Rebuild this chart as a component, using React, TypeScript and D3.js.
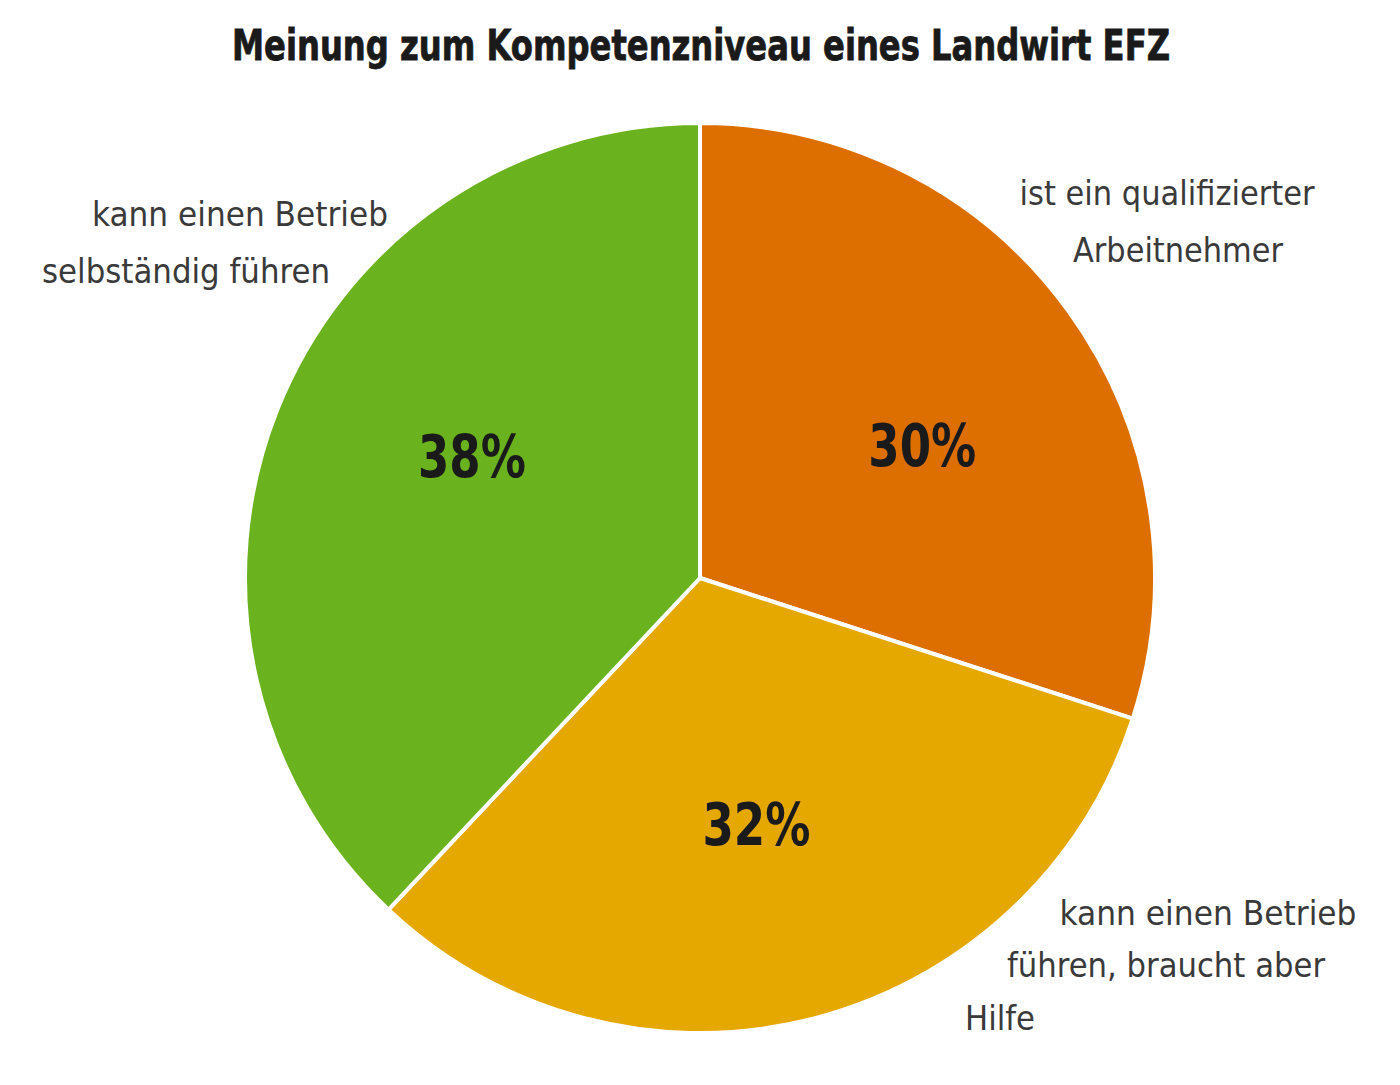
import React from "react";
import * as d3 from "d3";

const categories = [
  "ist ein qualifizierter Arbeitnehmer",
  "kann einen Betrieb führen, braucht aber Hilfe",
  "kann einen Betrieb selbständig führen",
];
const values = [30, 32, 38];
const colors = ["#DD6F00", "#E5A800", "#6AB21E"];
const labelLines = [
  ["ist ein qualifizierter", "Arbeitnehmer"],
  ["kann einen Betrieb", "führen, braucht aber", "Hilfe"],
  ["kann einen Betrieb", "selbständig führen"],
];
const title = "Meinung zum Kompetenzniveau eines Landwirt EFZ";

// layout (styles, not data)
const W = 1400;
const H = 1085;
const cx = 700;
const cy = 578;
const R = 455;
const pctOffsets = [
  [16, 18],
  [-7, 0],
  [9, -27],
];
const outsideLayout = [
  [
    { x: 1167, y: 205, w: 295 },
    { x: 1178, y: 262, w: 210 },
  ],
  [
    { x: 1208, y: 925, w: 297 },
    { x: 1166, y: 977, w: 318 },
    { x: 1000, y: 1030, w: 70 },
  ],
  [
    { x: 240, y: 226, w: 296 },
    { x: 186, y: 283, w: 288 },
  ],
];

const FONT = "'Liberation Sans Narrow', 'DejaVu Sans Condensed', 'Arial Narrow', sans-serif";

export default function App() {
  const pie = d3
    .pie<number>()
    .sort(null)
    .value((d) => d)
    .startAngle(0)
    .endAngle(2 * Math.PI);
  const arcs = pie(values);
  const arcGen = d3.arc<d3.PieArcDatum<number>>().innerRadius(0).outerRadius(R);
  const labelArc = d3.arc<d3.PieArcDatum<number>>().innerRadius(255).outerRadius(255);

  return (
    <svg width={W} height={H} style={{ display: "block", position: "absolute", left: 0, top: 0 }}>
      <rect width={W} height={H} fill="#ffffff" />
      <text
        x={701}
        y={60}
        textAnchor="middle"
        fontFamily={FONT}
        fontWeight="bold"
        fontSize={43}
        fill="#1a1a1a"
        stroke="#1a1a1a"
        strokeWidth={0.8}
        textLength={938}
        lengthAdjust="spacingAndGlyphs"
      >
        {title}
      </text>
      <g transform={`translate(${cx},${cy})`}>
        {arcs.map((a, i) => (
          <path
            key={categories[i]}
            d={arcGen(a) || ""}
            fill={colors[i]}
            stroke="#ffffff"
            strokeWidth={4}
            strokeLinejoin="round"
          />
        ))}
        {arcs.map((a, i) => {
          const [x, y] = labelArc.centroid(a);
          return (
            <text
              key={"p" + i}
              x={x + pctOffsets[i][0]}
              y={y + pctOffsets[i][1]}
              dy="0.35em"
              textAnchor="middle"
              fontFamily={FONT}
              fontWeight="bold"
              fontSize={58}
              fill="#1a1a1a"
              textLength={108}
              lengthAdjust="spacingAndGlyphs"
            >
              {d3.format(".0f")(values[i]) + "%"}
            </text>
          );
        })}
      </g>
      {labelLines.map((lines, i) =>
        lines.map((line, j) => {
          const l = outsideLayout[i][j];
          return (
            <text
              key={`l${i}-${j}`}
              x={l.x}
              y={l.y}
              textAnchor="middle"
              fontFamily={FONT}
              fontSize={33}
              fill="#3a3a3a"
              textLength={l.w}
              lengthAdjust="spacingAndGlyphs"
            >
              {line}
            </text>
          );
        })
      )}
    </svg>
  );
}
